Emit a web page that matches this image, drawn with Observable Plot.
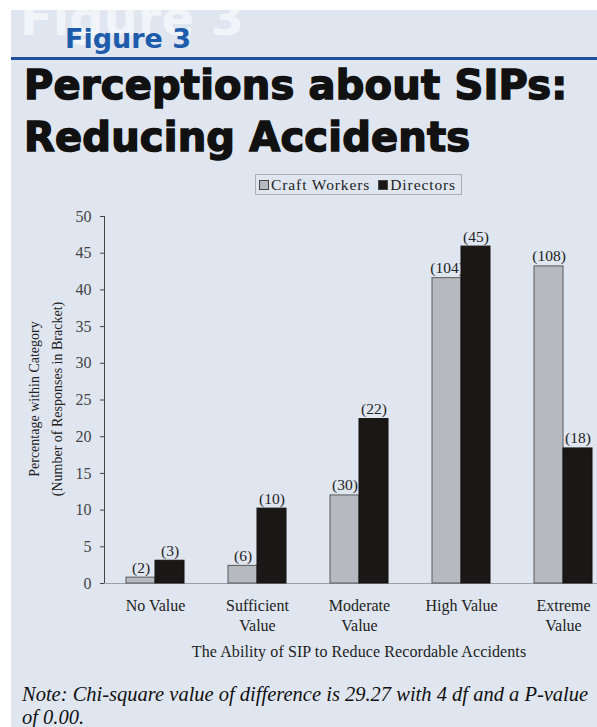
<!DOCTYPE html>
<html>
<head>
<meta charset="utf-8">
<script src="https://cdn.jsdelivr.net/npm/d3@7"></script>
<script src="https://cdn.jsdelivr.net/npm/@observablehq/plot@0.6"></script>
<style>
  html, body { margin: 0; padding: 0; background: #ffffff; overflow: hidden; width: 597px; height: 727px; }
  #panel { position: absolute; left: 11px; top: 10px; width: 586px; height: 717px; background: #dfe6f0; overflow: hidden; }
  .abs { position: absolute; white-space: nowrap; }
  #ghost { left: 9px; top: -20px; font: bold 48px "DejaVu Sans", sans-serif; color: #f1f4f9; }
  #fig { left: 54px; top: 13px; font: bold 27px "DejaVu Sans", sans-serif; color: #1d5cab; }
  #rule { left: 0; top: 47px; width: 586px; height: 3px; background: #1f4f9d; }
  .title { left: 13px; font: bold 40px "DejaVu Sans", sans-serif; color: #111; -webkit-text-stroke: 1.5px #111; letter-spacing: 0.2px; }
  #t1 { top: 52px; }
  #t2 { top: 104px; }
  #legend { left: 244px; top: 164px; width: 205px; height: 19px; border: 1px solid #a9b0bb; font: 15.5px "Liberation Serif", serif; color: #222; line-height: 19px; letter-spacing: 0.9px; }
  .sw { display: inline-block; width: 8px; height: 8px; border: 1px solid #444; margin: 0 2px 0 3px; }
  .sw2 { margin-left: 8px; }
  #ylab { left: 35px; top: 389px; transform: translate(-50%, -50%) rotate(-90deg); font: 14px "Liberation Serif", serif; color: #222; text-align: center; line-height: 23px; }
  #xtitle { left: 348px; top: 633px; transform: translateX(-50%); font: 16px "Liberation Serif", serif; color: #222; letter-spacing: 0.1px; }
  #note { left: 11px; top: 673px; font: italic 20.5px "Liberation Serif", serif; color: #111; line-height: 23px; }
  #chart { position: absolute; left: -11px; top: 155px; width: 597px; height: 500px; overflow: hidden; }
</style>
</head>
<body>
<div id="panel">
  <div id="ghost" class="abs">Figure 3</div>
  <div id="fig" class="abs">Figure 3</div>
  <div id="rule" class="abs"></div>
  <div id="t1" class="abs title">Perceptions about SIPs:</div>
  <div id="t2" class="abs title">Reducing Accidents</div>
  <div id="legend" class="abs"></div>
  <div id="ylab" class="abs">Percentage within Category<br>(Number of Responses in Bracket)</div>
  <div id="chart"></div>
  <div id="xtitle" class="abs">The Ability of SIP to Reduce Recordable Accidents</div>
  <div id="note" class="abs">Note: Chi-square value of difference is 29.27 with 4 df and a P-value<br>of 0.00.</div>
</div>
<script>
const categories = ["No Value", "Sufficient Value", "Moderate Value", "High Value", "Extreme Value"];
const tickLabels = ["No Value", "Sufficient\nValue", "Moderate\nValue", "High Value", "Extreme\nValue"];
const series = ["Craft Workers", "Directors"];
const craftPct = [0.8, 2.4, 12.0, 41.6, 43.2];
const directorPct = [3.1, 10.2, 22.4, 45.9, 18.4];
const craftCounts = [2, 6, 30, 104, 108];
const directorCounts = [3, 10, 22, 45, 18];
const yTicks = [0, 5, 10, 15, 20, 25, 30, 35, 40, 45, 50];

const seriesFill = {"Craft Workers": "#b6b9bf", "Directors": "#1c1717"};

// legend
const legend = document.getElementById("legend");
series.forEach((s, i) => {
  const sw = document.createElement("span");
  sw.className = i ? "sw sw2" : "sw";
  sw.style.background = seriesFill[s];
  legend.appendChild(sw);
  legend.appendChild(document.createTextNode(s));
});

const rows = categories.flatMap((c, i) => [
  {category: c, label: tickLabels[i], series: series[0], pct: craftPct[i], count: craftCounts[i]},
  {category: c, label: tickLabels[i], series: series[1], pct: directorPct[i], count: directorCounts[i]}
]);
const isCraft = d => d.series === series[0];
const isDir = d => d.series === series[1];

const chart = Plot.plot({
  width: 597,
  height: 500,
  marginTop: 51,
  marginBottom: 82,
  marginLeft: 102,
  marginRight: 0,
  style: {background: "transparent", fontFamily: "'Liberation Serif', serif", fontSize: "16px", color: "#444"},
  facet: {data: rows, x: "category"},
  fx: {domain: categories, range: [102, 616], paddingInner: 0, paddingOuter: 0, axis: null, label: null},
  x: {domain: series, paddingInner: 0, paddingOuter: 0.713, axis: null},
  y: {domain: [0, 50], ticks: yTicks, tickSize: 4, tickPadding: 9, label: null, line: true},
  marks: [
    Plot.ruleY([0], {stroke: "#9aa0a8"}),
    Plot.barY(rows, {filter: isCraft, x: "series", y: "pct", fill: seriesFill[series[0]], stroke: "#5a5a5a", strokeWidth: 1}),
    Plot.text(rows, {filter: isCraft, x: "series", y: "pct", text: d => `(${d.count})`, dy: -5, lineAnchor: "bottom", fill: "#222", fontSize: 15.5}),
    Plot.barY(rows, {filter: isDir, x: "series", y: "pct", fill: seriesFill[series[1]], stroke: "#111", strokeWidth: 1}),
    Plot.text(rows, {filter: isDir, x: "series", y: "pct", text: d => `(${d.count})`, dy: -5, lineAnchor: "bottom", fill: "#222", fontSize: 15.5}),
    Plot.text(rows, {filter: isCraft, text: "label", frameAnchor: "bottom", lineAnchor: "top", dy: 13, lineHeight: 1.25, fill: "#222", fontSize: 16})
  ]
});
document.getElementById("chart").appendChild(chart);
</script>
</body>
</html>
